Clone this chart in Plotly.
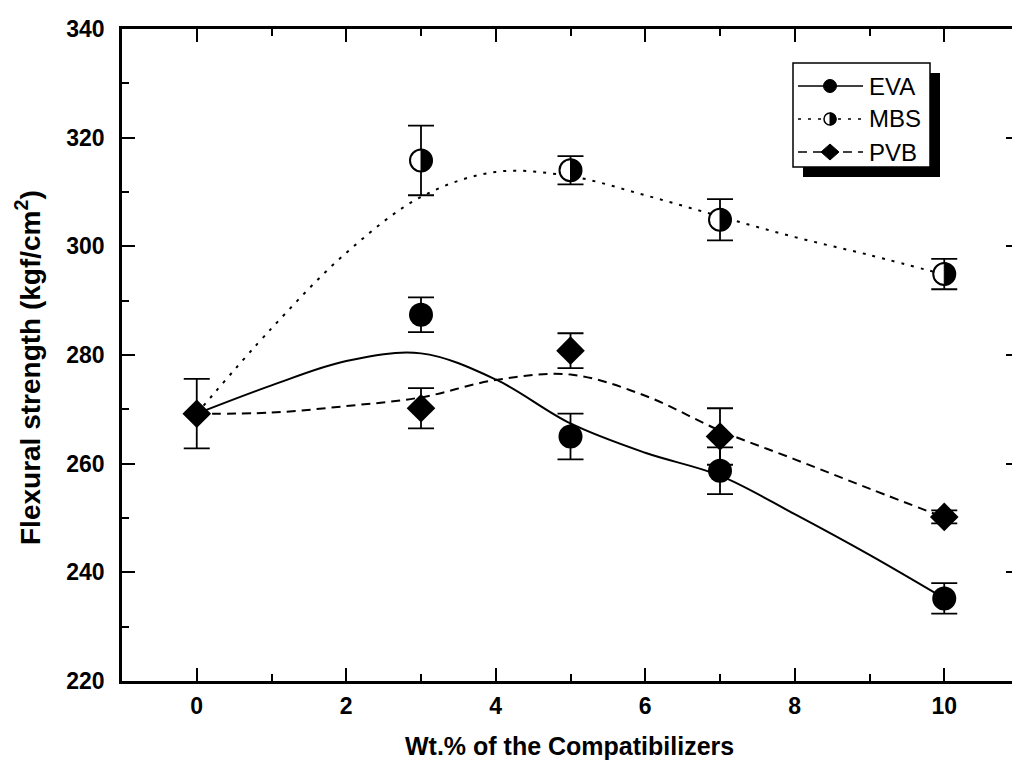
import plotly.graph_objects as go

# ---------------- data ----------------
series_names = ["EVA", "MBS", "PVB"]

x_eva = [3, 5, 7, 10]
eva = [287.4, 265.0, 258.7, 235.2]
eva_err = [3.2, 4.2, 4.3, 2.8]

x_mbs = [3, 5, 7, 10]
mbs = [315.8, 314.0, 304.9, 294.9]
mbs_err = [6.4, 2.6, 3.8, 2.8]

x_pvb = [0, 3, 5, 7, 10]
pvb = [269.2, 270.2, 280.8, 265.0, 250.2]
pvb_err = [6.4, 3.7, 3.2, 5.2, 1.2]

# smoothed fit curves, read at integer x
x_curve = [0, 1, 2, 3, 4, 5, 6, 7, 8, 9, 10]
eva_curve = [269.2, 274.4, 278.9, 280.3, 275.5, 267.4, 262.0, 257.8, 250.7, 243.2, 235.2]
mbs_curve = [269.2, 284.9, 298.8, 309.1, 313.7, 312.9, 309.4, 305.5, 301.7, 298.4, 294.8]
pvb_curve = [269.2, 269.4, 270.6, 272.2, 275.4, 276.4, 272.5, 266.1, 260.8, 255.4, 250.1]

x_title = "Wt.% of the Compatibilizers"
y_title = "Flexural strength (kgf/cm<sup>2</sup>)"

# ---------------- layout geometry ----------------
OFF = 8                      # page body margin
W, H = 1020 - OFF, 768 - OFF
ML, MR, MT, MB = 122 - OFF, 1, 29 - OFF, H - (681 - OFF)
PW, PH = W - ML - MR, H - MT - MB
FONT = "Liberation Sans, Arial, sans-serif"


def px2paper(px, py):
    """page pixel -> paper coords"""
    fx, fy = px - OFF, py - OFF
    return (fx - ML) / PW, (H - MB - fy) / PH


fig = go.Figure()

line_styles = {
    "EVA": dict(color="black", width=2, dash="solid"),
    "MBS": dict(color="black", width=2, dash="3px,7px"),
    "PVB": dict(color="black", width=2, dash="9px,6px"),
}

for name, yc in zip(series_names, [eva_curve, mbs_curve, pvb_curve]):
    fig.add_trace(go.Scatter(x=x_curve, y=yc, mode="lines", line=line_styles[name],
                             line_shape="spline", showlegend=False, hoverinfo="skip"))

err_style = dict(type="data", color="black", thickness=1.8, width=13)

fig.add_trace(go.Scatter(x=x_eva, y=eva, mode="markers", name="EVA", showlegend=False,
                         marker=dict(symbol="circle", size=24, color="black"),
                         error_y=dict(array=eva_err, **err_style)))
fig.add_trace(go.Scatter(x=x_mbs, y=mbs, mode="markers", name="MBS", showlegend=False,
                         marker=dict(symbol="circle", size=22, color="white",
                                     line=dict(color="black", width=2)),
                         error_y=dict(array=mbs_err, **err_style)))
fig.add_trace(go.Scatter(x=x_pvb, y=pvb, mode="markers", name="PVB", showlegend=False,
                         marker=dict(symbol="diamond", size=22, color="black"),
                         error_y=dict(array=pvb_err, **err_style)))

K = 0.5523


def half_path(r):
    return (f"M 0,{-r} C {K*r},{-r} {r},{-K*r} {r},0 "
            f"C {r},{K*r} {K*r},{r} 0,{r} Z")


def diamond_path(a, b):
    return f"M {-a},0 L 0,{b} L {a},0 L 0,{-b} Z"


shapes = []
# right half black on MBS markers
for xv, yv in zip(x_mbs, mbs):
    shapes.append(dict(type="path", xref="x", yref="y", xsizemode="pixel", ysizemode="pixel",
                       xanchor=xv, yanchor=yv, path=half_path(11),
                       fillcolor="black", line=dict(color="black", width=1)))

# ---------------- manual legend ----------------
bx0, by0, bx1, by1 = 793, 63, 930, 167
sh = 10
sx0, sy0 = px2paper(bx0 + sh, by1 + sh)
sx1, sy1 = px2paper(bx1 + sh, by0 + sh)
shapes.append(dict(type="rect", xref="paper", yref="paper", x0=sx0, y0=sy0, x1=sx1, y1=sy1,
                   fillcolor="black", line=dict(width=0), layer="above"))
lx0, ly0 = px2paper(bx0, by1)
lx1, ly1 = px2paper(bx1, by0)
shapes.append(dict(type="rect", xref="paper", yref="paper", x0=lx0, y0=ly0, x1=lx1, y1=ly1,
                   fillcolor="white", line=dict(width=1.5, color="black"), layer="above"))

rows_py = [86, 119, 152]
annotations = []
for name, py in zip(series_names, rows_py):
    a0, yy = px2paper(798, py)
    a1, _ = px2paper(863, py)
    st = line_styles[name]
    shapes.append(dict(type="line", xref="paper", yref="paper", x0=a0, x1=a1, y0=yy, y1=yy,
                       line=dict(color="black", width=1.5, dash=st["dash"]), layer="above"))
    mx, _ = px2paper(830, py)
    if name == "EVA":
        shapes.append(dict(type="circle", xref="paper", yref="paper", xsizemode="pixel",
                           ysizemode="pixel", xanchor=mx, yanchor=yy, x0=-6.5, x1=6.5, y0=-6.5, y1=6.5,
                           fillcolor="black", line=dict(color="black", width=1), layer="above"))
    elif name == "MBS":
        shapes.append(dict(type="circle", xref="paper", yref="paper", xsizemode="pixel",
                           ysizemode="pixel", xanchor=mx, yanchor=yy, x0=-6, x1=6, y0=-6, y1=6,
                           fillcolor="white", line=dict(color="black", width=1.5), layer="above"))
        shapes.append(dict(type="path", xref="paper", yref="paper", xsizemode="pixel",
                           ysizemode="pixel", xanchor=mx, yanchor=yy, path=half_path(6),
                           fillcolor="black", line=dict(color="black", width=1), layer="above"))
    else:
        shapes.append(dict(type="path", xref="paper", yref="paper", xsizemode="pixel",
                           ysizemode="pixel", xanchor=mx, yanchor=yy, path=diamond_path(9, 8),
                           fillcolor="black", line=dict(color="black", width=1), layer="above"))
    tx, _ = px2paper(867, py)
    annotations.append(dict(x=tx, y=yy, xref="paper", yref="paper", text=name, showarrow=False,
                            xanchor="left", yanchor="middle",
                            font=dict(family=FONT, size=24, color="black")))

# axis titles (positions in page pixels)
txx, txy = px2paper(569, 746)
annotations.append(dict(x=txx, y=txy, xref="paper", yref="paper", text=x_title, showarrow=False,
                        xanchor="center", yanchor="middle",
                        font=dict(family=FONT, size=25, color="black", weight="bold")))
tyx, tyy = px2paper(28, 368)
annotations.append(dict(x=tyx, y=tyy, xref="paper", yref="paper", text=y_title, showarrow=False,
                        textangle=-90, xanchor="center", yanchor="middle",
                        font=dict(family=FONT, size=28, color="black", weight="bold")))

axis_common = dict(showline=True, linewidth=2.5, linecolor="black", mirror="ticks",
                   ticks="inside", ticklen=13, tickwidth=2, tickcolor="black",
                   showgrid=False, zeroline=False,
                   tickfont=dict(family=FONT, size=23, color="black", weight="bold"))

fig.update_layout(
    width=W, height=H,
    margin=dict(l=ML, r=MR, t=MT, b=MB, autoexpand=False),
    paper_bgcolor="white", plot_bgcolor="white",
    showlegend=False,
    xaxis=dict(range=[-1, 11], tick0=0, dtick=2,
               minor=dict(dtick=1, tick0=0, ticks="inside", ticklen=7, tickwidth=2, tickcolor="black"),
               ticklabelstandoff=3, **axis_common),
    yaxis=dict(range=[220, 340], tick0=220, dtick=20,
               minor=dict(dtick=10, tick0=220, ticks="inside", ticklen=7, tickwidth=2, tickcolor="black"),
               ticklabelstandoff=10, **axis_common),
    shapes=shapes,
    annotations=annotations,
)

fig.write_html("out.html")
